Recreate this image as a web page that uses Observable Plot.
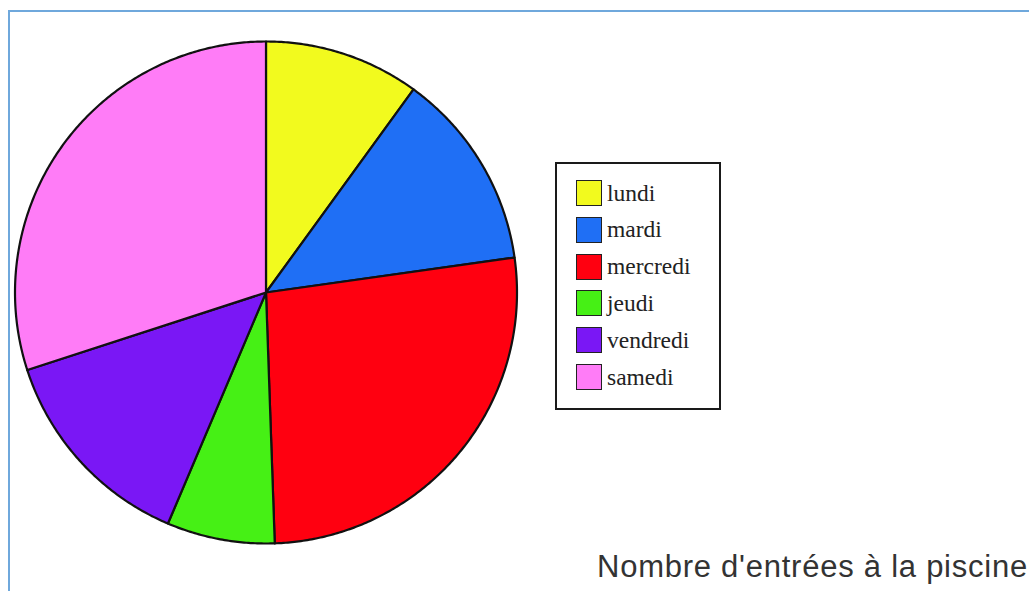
<!DOCTYPE html>
<html><head><meta charset="utf-8">
<script src="https://cdn.jsdelivr.net/npm/d3@7"></script>
<script src="https://cdn.jsdelivr.net/npm/@observablehq/plot@0.6"></script>
<style>
body{margin:0;background:#fff;}
#wrap{position:relative;width:1029px;height:591px;overflow:hidden;background:#fff;}
#frame{position:absolute;left:8px;top:10px;width:1100px;height:700px;border-top:2px solid #6fa8dc;border-left:2px solid #6fa8dc;pointer-events:none;}
#chart{position:absolute;left:0;top:0;}
#legend{position:absolute;left:555px;top:162px;width:162px;height:244px;border:2px solid #1a1a1a;background:#fff;}
.row{position:absolute;left:19px;height:28px;display:flex;align-items:center;font-family:"Liberation Serif","DejaVu Serif",serif;font-size:23.5px;color:#222;}
.sw{width:24px;height:24px;border:1.5px solid #222;margin-right:5px;flex:none;}
#title{position:absolute;left:597px;top:550px;font-family:"Liberation Sans",Arial,sans-serif;font-size:31px;letter-spacing:0.75px;line-height:34px;color:#333;white-space:nowrap;}
</style>
</head><body><div id="wrap"><div id="chart"></div><div id="legend"></div><div id="title"></div><div id="frame"></div></div>
<script>
const days = ["lundi","mardi","mercredi","jeudi","vendredi","samedi"];
const entries = [36, 46, 96, 25, 49, 108];
const colors = ["#f2fa1e","#1f6ff5","#ff0010","#46f015","#7a17f5","#ff7cf7"];
const title = "Nombre d'entrées à la piscine";

const data = days.map((d, i) => ({day: d, value: entries[i]}));
const arcs = d3.pie().sort(null).value(d => d.value)(data);

// slice polygons in unit coordinates (y up), angles clockwise from north
function slicePolygon(a) {
  const ring = [[0, 0]];
  const step = Math.PI / 360;
  for (let t = a.startAngle; t < a.endAngle; t += step) ring.push([Math.sin(t), Math.cos(t)]);
  ring.push([Math.sin(a.endAngle), Math.cos(a.endAngle)]);
  ring.push([0, 0]);
  return {type: "Feature", properties: {day: a.data.day, value: a.data.value}, geometry: {type: "Polygon", coordinates: [ring]}};
}
const features = arcs.map(slicePolygon);
const circle = {type: "Polygon", coordinates: [d3.range(0, 361, 1).map(t => [Math.sin(t * Math.PI / 180), Math.cos(t * Math.PI / 180)])]};

const chart = Plot.plot({
  width: 1029,
  height: 591,
  marginLeft: 14.5,
  marginTop: 41,
  marginRight: 512.5,
  marginBottom: 48,
  style: {background: "transparent"},
  projection: {type: "reflect-y", domain: circle, inset: 0},
  color: {domain: days, range: colors},
  marks: [
    Plot.geo(features, {fill: d => d.properties.day, stroke: "#111", strokeWidth: 2.2, strokeLinejoin: "round"})
  ]
});
document.getElementById("chart").appendChild(chart);

const color = chart.scale("color");
const legend = document.getElementById("legend");
days.forEach((d, i) => {
  const row = document.createElement("div");
  row.className = "row";
  row.style.top = (15 + i * 36.8) + "px";
  const sw = document.createElement("div");
  sw.className = "sw";
  sw.style.background = color.apply(d);
  const lab = document.createElement("span");
  lab.textContent = d;
  row.appendChild(sw);
  row.appendChild(lab);
  legend.appendChild(row);
});
document.getElementById("title").textContent = title;
</script>
</body></html>
